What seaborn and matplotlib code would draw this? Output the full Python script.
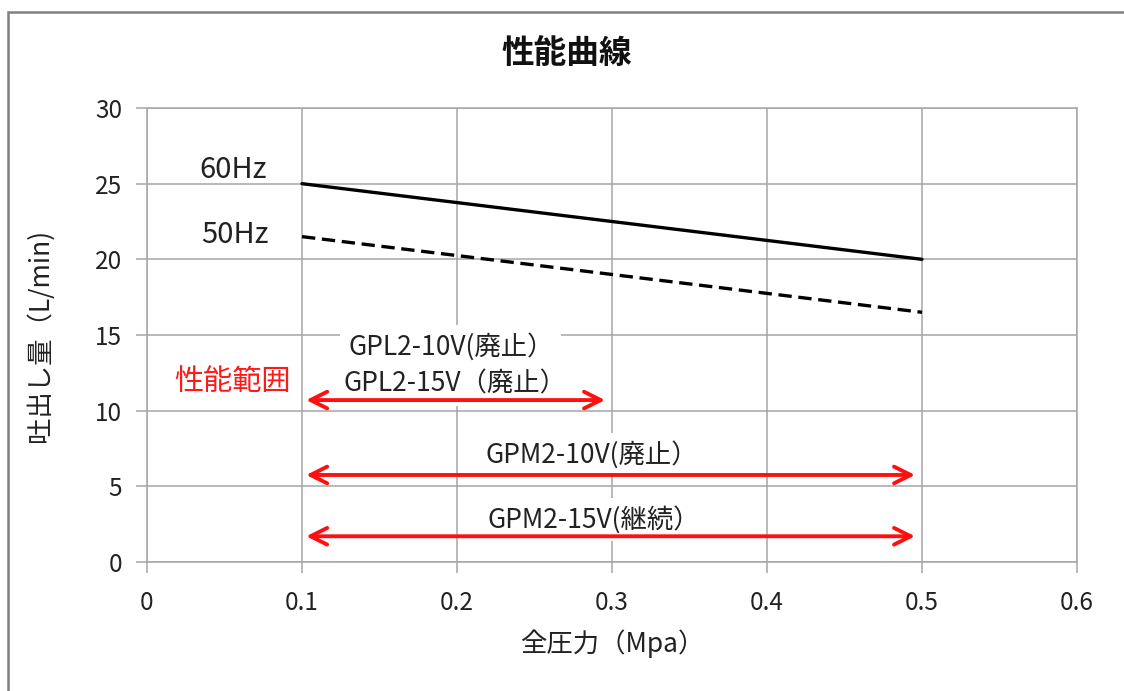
import numpy as np
import pandas as pd
import matplotlib
matplotlib.use("Agg")
import matplotlib.pyplot as plt
import matplotlib.patches as mpatches
import seaborn as sns

# ---- data ----
pressure = [0.1, 0.5]
flow_60hz = [25.0, 20.0]
flow_50hz = [21.5, 16.5]
series_names = ["60Hz", "50Hz"]

range_labels = ["GPL2-10V(廃止）", "GPL2-15V（廃止）", "GPM2-10V(廃止）", "GPM2-15V(継続）"]
range_start = [0.1, 0.1, 0.1]
range_end = [0.3, 0.5, 0.5]
range_y = [10.7, 5.75, 1.7]

x_ticks = [0, 0.1, 0.2, 0.3, 0.4, 0.5, 0.6]
x_tick_labels = ["0", "0.1", "0.2", "0.3", "0.4", "0.5", "0.6"]
y_ticks = [0, 5, 10, 15, 20, 25, 30]

title = "性能曲線"
xlabel = "全圧力（Mpa）"
ylabel = "吐出し量（L/min)"
range_title = "性能範囲"

df = pd.DataFrame({
    "pressure": pressure * 2,
    "flow": flow_60hz + flow_50hz,
    "series": [series_names[0]] * 2 + [series_names[1]] * 2,
})

sns.set_theme(style="white")
plt.rcParams["font.family"] = ["Noto Sans CJK JP", "DejaVu Sans"]

fig = plt.figure(figsize=(11.24, 6.91), dpi=100)
ax = fig.add_axes([147 / 1124, 1 - 562 / 691, 930 / 1124, 454 / 691])

sns.lineplot(data=df, x="pressure", y="flow", hue="series", style="series",
             palette={"60Hz": "black", "50Hz": "black"},
             dashes={"60Hz": "", "50Hz": (4, 2)},
             linewidth=2.4, legend=False, ax=ax, zorder=3)

ax.set_xlim(0, 0.6)
ax.set_ylim(0, 30)
ax.set_xticks(x_ticks)
ax.set_xticklabels(x_tick_labels)
ax.set_yticks(y_ticks)
ax.grid(True, color="#a6a6a6", linewidth=1.1)
ax.set_axisbelow(True)
for s in ax.spines.values():
    s.set_color("#a6a6a6")
    s.set_linewidth(1.1)
ax.tick_params(axis="both", which="both", direction="out", length=8, width=1.1,
               color="#a6a6a6", labelsize=17.5, labelcolor="#222222")
ax.tick_params(axis="x", pad=12)
ax.tick_params(axis="y", pad=10, left=True)
ax.tick_params(axis="x", bottom=True)

ax.set_xlabel(xlabel, fontsize=19, color="#222222", labelpad=10)
ax.set_ylabel(ylabel, fontsize=19, color="#222222", va="center")
ax.yaxis.set_label_coords(-0.115, 0.5)

# series labels
ax.text(0.0555, 25.9, series_names[0], fontsize=21, ha="center", va="center", color="#222222")
ax.text(0.057, 21.6, series_names[1], fontsize=21, ha="center", va="center", color="#222222")

# range label
ax.text(0.055, 11.9, range_title, fontsize=21, ha="center", va="center", color="#ff1a1a")

# range text positions (labels above arrows)
label_pos = [(0.196, 14.2), (0.199, 11.75), (0.287, 7.1), (0.288, 2.8)]
for lab, (lx, ly) in zip(range_labels, label_pos):
    ax.text(lx, ly, lab, fontsize=19, ha="center", va="center", color="#222222",
            zorder=4, bbox=dict(boxstyle="square,pad=0.3", fc="white", ec="none"))

for xs, xe, yy in zip(range_start, range_end, range_y):
    ax.annotate("", xy=(xe, yy), xytext=(xs, yy),
                arrowprops=dict(arrowstyle="<->,head_length=1.0,head_width=0.5",
                                color="#ff1010", lw=2.8, shrinkA=3, shrinkB=5),
                zorder=5)

fig.text(567 / 1124, 1 - 53 / 691, title, fontsize=23.5, fontweight="bold",
         ha="center", va="center", color="#111111")

# outer border
fig.patches.append(mpatches.Rectangle((8 / 1124, -0.05), 1.2, 1.05 - 12 / 691,
                                      transform=fig.transFigure, fill=False,
                                      ec="#808080", lw=1.8))

fig.savefig("out.png", dpi=100)
